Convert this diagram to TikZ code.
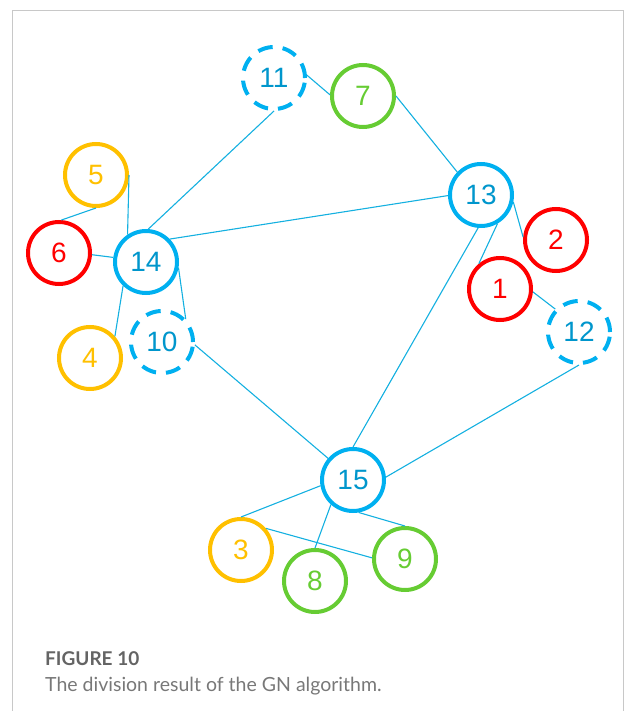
\documentclass[tikz,border=0pt]{standalone}
\usepackage{fontspec}
\setmainfont{Liberation Sans}
\newfontfamily\capfont{Lato}
\definecolor{nblue}{RGB}{0,176,240}
\definecolor{nred}{RGB}{255,0,0}
\definecolor{norange}{RGB}{255,192,0}
\definecolor{ngreen}{RGB}{102,204,51}
\definecolor{edgec}{RGB}{20,176,224}
\definecolor{framec}{RGB}{200,200,200}
\definecolor{capgray}{RGB}{100,100,100}
\definecolor{capgray2}{RGB}{120,120,120}
\begin{document}
\begin{tikzpicture}[x=1pt,y=-1pt,
  gnode/.style={circle,minimum size=62pt,inner sep=0pt,line width=4pt,font=\fontsize{28}{28}\selectfont},
  bl/.style={gnode,draw=nblue,text=nblue!85!black},
  bld/.style={bl,dash pattern=on 15pt off 10pt},
  rd/.style={gnode,draw=nred,text=nred},
  og/.style={gnode,draw=norange,text=norange},
  gr/.style={gnode,draw=ngreen,text=ngreen},
  edge/.style={draw=edgec,line width=1.1pt}]
\useasboundingbox (0,0) rectangle (625,711);
\draw[framec,line width=1pt] (12,711) -- (12,11) -- (623,11) -- (623,711);

\node[bld] (n11) at (274,78) {11};
\node[gr]  (n7)  at (363,96) {7};
\node[og]  (n5)  at (96,175) {5};
\node[bl]  (n13) at (481,195) {13};
\node[rd]  (n6)  at (59,253) {6};
\node[bl]  (n14) at (146,262) {14};
\node[rd]  (n2)  at (556,240) {2};
\node[rd]  (n1)  at (500,289) {1};
\node[bld] (n12) at (579,332) {12};
\node[bld] (n10) at (162,342) {10};
\node[og]  (n4)  at (90,358) {4};
\node[bl]  (n15) at (353,480) {15};
\node[og]  (n3)  at (241,550) {3};
\node[gr]  (n9)  at (405,559) {9};
\node[gr]  (n8)  at (315,581) {8};

\draw[edge] (n11.5) -- (n7.178);
\draw[edge] (n7.0) -- (n13.136);
\draw[edge] (n11.270) -- (n14.86);
\draw[edge] (n5.270) -- (n6.86);
\draw[edge] (n5.0) -- (n14.124);
\draw[edge] (n14.44) -- (n13.181);
\draw[edge] (n6.-3) -- (n14.172);
\draw[edge] (n14.226) -- (n4.41);
\draw[edge] (n14.-10) -- (n10.44);
\draw[edge] (n10.-5) -- (n15.139);
\draw[edge] (n13.265) -- (n15.90);
\draw[edge] (n13.300) -- (n1.130);
\draw[edge] (n13.-12) -- (n2.175);
\draw[edge] (n1.-5) -- (n12.136);
\draw[edge] (n12.270) -- (n15.5);
\draw[edge] (n15.190) -- (n3.90);
\draw[edge] (n15.228) -- (n8.90);
\draw[edge] (n15.280) -- (n9.90);
\draw[edge] (n3.41) -- (n9.178);

\node[anchor=base west,inner sep=0pt,text=capgray,font=\capfont\bfseries\fontsize{19}{20}\selectfont] (cap1) at (45,665) {FIGURE 10};
\node[anchor=base west,inner sep=0pt,text=capgray2,font=\capfont\fontsize{19.5}{20}\selectfont] (cap2) at (45,691) {The division result of the GN algorithm.};
\end{tikzpicture}
\end{document}
